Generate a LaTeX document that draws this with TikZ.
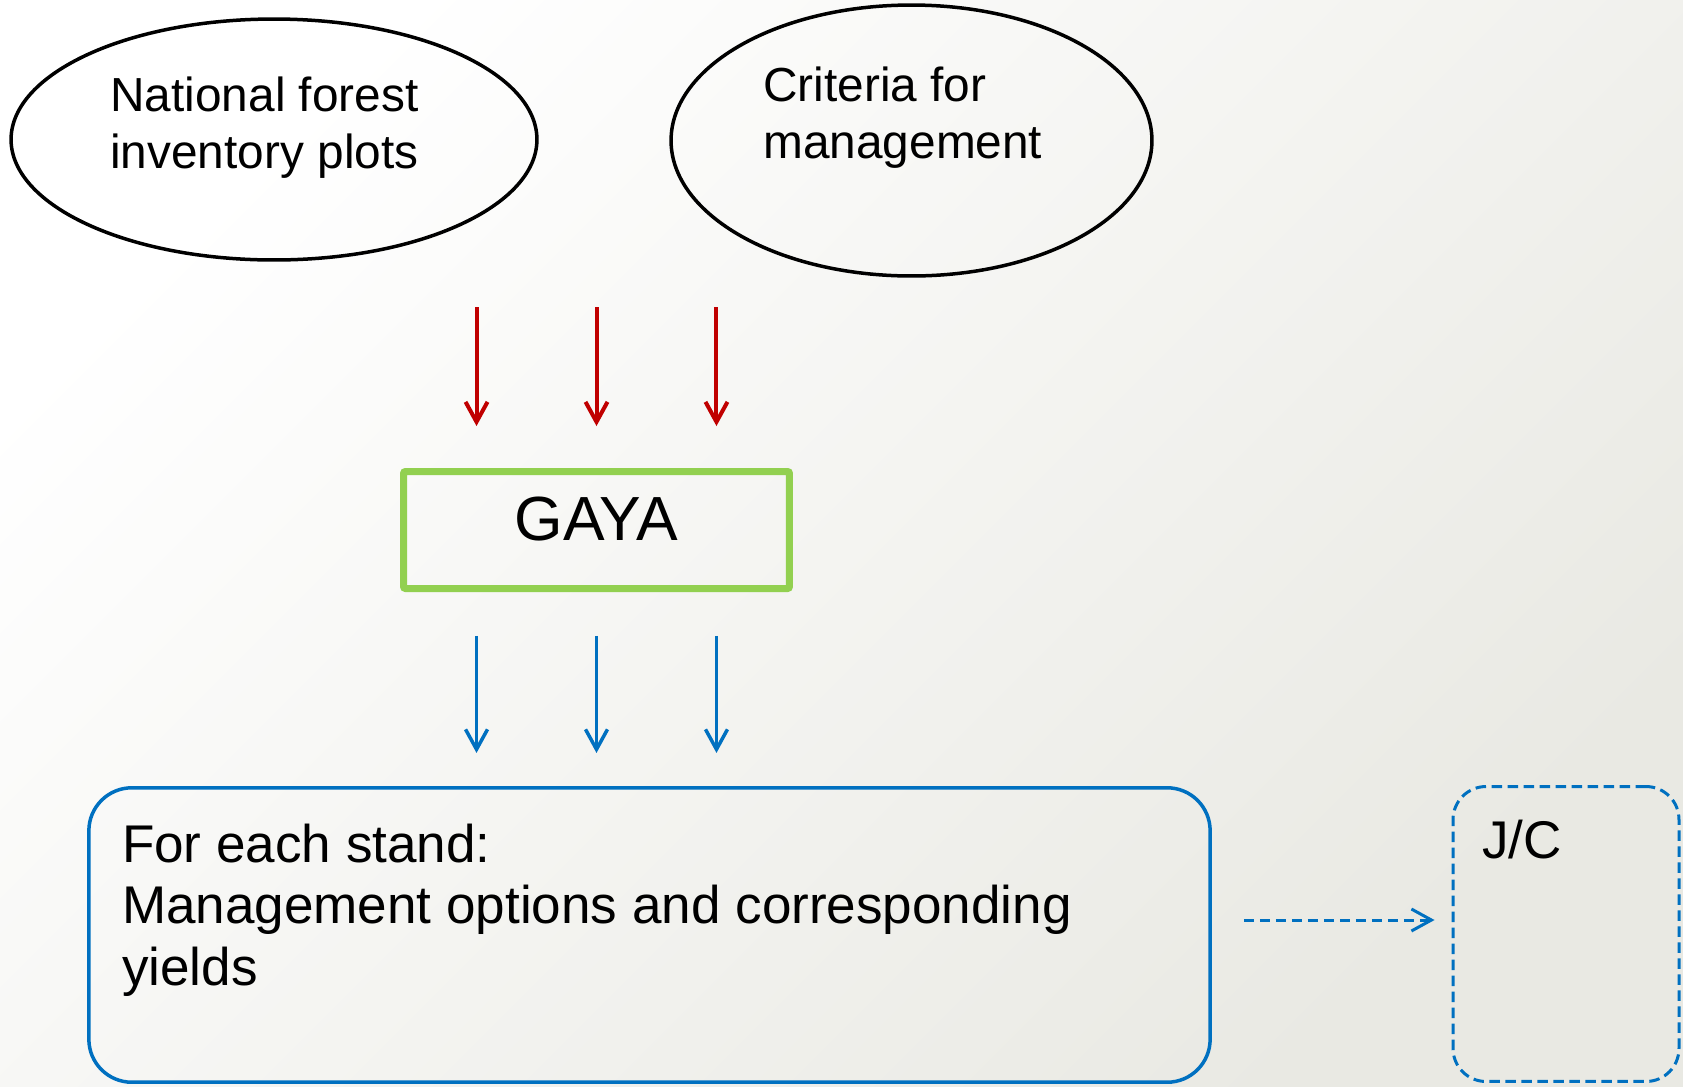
\documentclass[tikz,border=0pt]{standalone}
\usepackage{fontspec}
\setmainfont{Liberation Sans}
\usetikzlibrary{shapes.geometric,arrows.meta,calc}

\definecolor{arrowred}{HTML}{C00000}
\definecolor{gayagreen}{HTML}{92D050}
\definecolor{standblue}{HTML}{0070C0}
\definecolor{bggray}{HTML}{E9E9E3}

\tikzset{
  inputell/.style={ellipse, draw=black, line width=0.07cm, inner sep=0pt},
  boxtext/.style={inner sep=0pt, align=left, anchor=base west},
  gayabox/.style={draw=gayagreen, line width=0.14cm, rounded corners=0.04cm,
    minimum width=7.72cm, minimum height=2.34cm, inner sep=0pt,
    font=\fontsize{35.5}{40}\selectfont},
  standbox/.style={draw=standblue, line width=0.07cm, rounded corners=0.86cm,
    minimum width=22.43cm, minimum height=5.89cm, inner sep=0pt},
  jcbox/.style={draw=standblue, line width=0.06cm, dash pattern=on 0.21cm off 0.11cm,
    rounded corners=0.66cm, minimum width=4.52cm, minimum height=5.9cm, inner sep=0pt},
  redarr/.style={draw=arrowred, line width=0.08cm, -{Straight Barb[length=0.4cm,width=0.44cm]}},
  bluearr/.style={draw=standblue, line width=0.07cm, -{Straight Barb[length=0.4cm,width=0.44cm]}},
  dasharr/.style={draw=standblue, line width=0.06cm, dash pattern=on 0.21cm off 0.11cm,
    -{Straight Barb[length=0.4cm,width=0.44cm]}}
}

\begin{document}
\begin{tikzpicture}[x=0.02cm,y=-0.02cm]

% background
\shade[top color=white, bottom color=bggray, shading angle=45] (0,0) rectangle (1683,1086);

% inputs
\node[inputell, minimum width=10.52cm, minimum height=4.82cm] (nfi) at (274,139.5) {};
\node[inputell, minimum width=9.62cm, minimum height=5.42cm] (crit) at (911.5,140.5) {};

\node[boxtext, font=\fontsize{27.2}{32.5}\selectfont] (nfitext) at ($(nfi.center)+(-164,28.8)$)
  {National forest\\inventory plots};
\node[boxtext, font=\fontsize{27.2}{32.5}\selectfont] (crittext) at ($(crit.center)+(-148.5,17.8)$)
  {Criteria for\\management};

% model
\node[gayabox, text depth=0.45cm] (gaya) at (596.5,530) {GAYA};

% outputs
\node[standbox] (stand) at (649.5,935) {};
\node[jcbox] (jc) at (1566,934) {};

\node[boxtext, font=\fontsize{30.2}{35}\selectfont] (standtext) at ($(stand.center)+(-527.8,50)$)
  {For each stand:\\Management options and corresponding\\yields};
\node[boxtext, font=\fontsize{30.2}{35}\selectfont] (jctext) at ($(jc.center)+(-84,-76)$) {J/C};

% arrows
\foreach \dx in {-2.4cm,0cm,2.4cm}{
  \draw[redarr] ([xshift=\dx,yshift=3.22cm]gaya.north) -- ([xshift=\dx,yshift=0.84cm]gaya.north);
  \draw[bluearr] ([xshift=\dx,yshift=-0.88cm]gaya.south) -- ([xshift=\dx,yshift=-3.22cm]gaya.south);
}

\draw[dasharr, shorten <=0.64cm, shorten >=0.34cm] ([yshift=0.3cm]stand.east) -- ([yshift=0.3cm]stand.east -| jc.west);

\end{tikzpicture}
\end{document}
